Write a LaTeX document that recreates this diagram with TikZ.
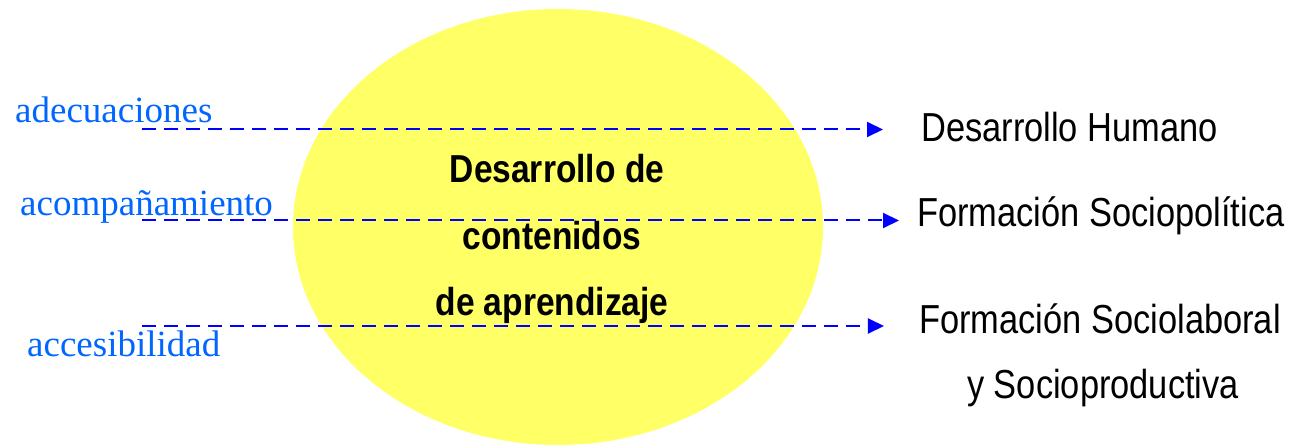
\documentclass[tikz,border=0pt]{standalone}
\usepackage{fontspec}
\usetikzlibrary{shapes.geometric,arrows.meta}
\newfontfamily\narrowfont[FakeStretch=0.85]{Liberation Sans}
\newfontfamily\narrowbold[FakeStretch=0.86,BoldFont={Liberation Sans Bold}]{Liberation Sans Bold}
\newfontfamily\seriffont{Liberation Serif}
\definecolor{lblue}{HTML}{0066FF}
\definecolor{lineblue}{HTML}{0000FF}
\definecolor{yell}{HTML}{FFFF66}
\tikzset{
  blob/.style={ellipse, fill=yell, draw=none, minimum width=530pt, minimum height=436pt, inner sep=0pt},
  lefttxt/.style={anchor=base west, inner sep=0pt, text=lblue, font=\seriffont\fontsize{37}{40}\selectfont},
  righttxt/.style={anchor=base west, inner sep=0pt, font=\narrowfont\fontsize{40.5}{44}\selectfont},
  midtxt/.style={anchor=base, inner sep=0pt, font=\narrowbold\fontsize{39}{44}\selectfont},
  conn/.style={lineblue, line width=2pt, dash pattern=on 14pt off 8pt, -{Triangle[length=16pt,width=15pt]}}
}
\begin{document}
\begin{tikzpicture}[x=1pt,y=-1pt]
\useasboundingbox (0,0) rectangle (1303,446);
\node[blob] (e) at (558,227) {};
% right texts
\node[righttxt] (h1) at (921,142) {Desarrollo Humano};
\node[righttxt] (h2) at (917,227) {Formación Sociopolítica};
\node[righttxt, anchor=base] (h3) at (1100,333) {Formación Sociolaboral};
\node[righttxt, anchor=base] (h3b) at (1103,398) {y Socioproductiva};
% connectors
\coordinate (s1) at (142,129.5);
\coordinate (s2) at (142,220.5);
\coordinate (s3) at (142,326);
\draw[conn, shorten >=38pt] (s1) -- (s1 -| h1.west);
\draw[conn, shorten >=18pt] (s2) -- (s2 -| h2.west);
\draw[conn, shorten >=35pt] (s3) -- (s3 -| h3.west);
% center text
\node[midtxt] (m1) at (557,183) {Desarrollo de};
\node[midtxt] (m2) at (552,250) {contenidos};
\node[midtxt] (m3) at (552,315) {de aprendizaje};
% left labels
\node[lefttxt] (l1) at (15,123) {adecuaciones};
\node[lefttxt] (l2) at (20,216) {acompañamiento};
\node[lefttxt] (l3) at (27,356) {accesibilidad};
\end{tikzpicture}
\end{document}
